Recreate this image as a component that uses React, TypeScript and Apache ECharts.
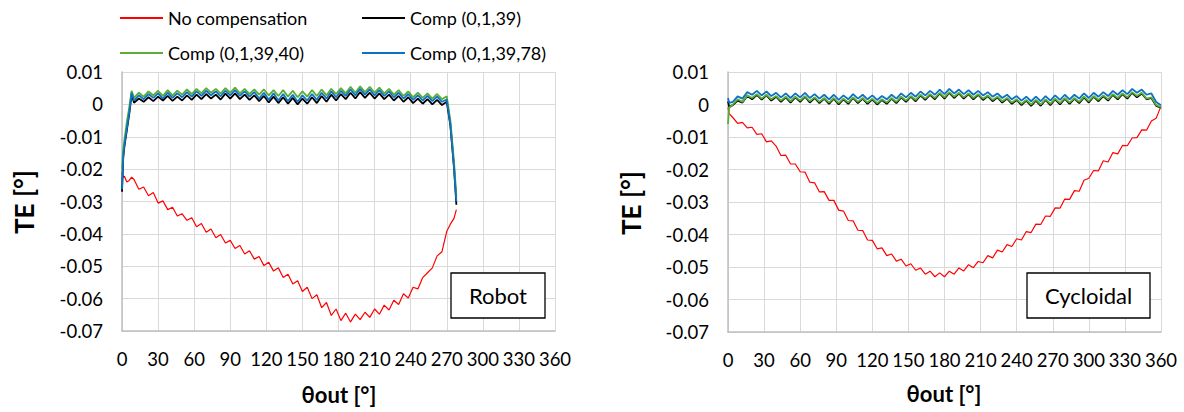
import { useEffect, useRef } from "react";
import * as echarts from "echarts";

const FONT = "Lato, 'DejaVu Sans', sans-serif";

const SERIES_NAMES = ["No compensation", "Comp (0,1,39)", "Comp (0,1,39,40)", "Comp (0,1,39,78)"];
const SERIES_COLORS = ["#ff0000", "#000000", "#5aae35", "#0b72c4"];

const X_TICKS = [0, 30, 60, 90, 120, 150, 180, 210, 240, 270, 300, 330, 360];
const Y_TICKS = [-0.07, -0.06, -0.05, -0.04, -0.03, -0.02, -0.01, 0, 0.01];

// ---------- Robot (left panel) ----------
const robotTheta = [
  0, 1, 2, 4, 6, 8,
  10, 14, 18, 22, 26, 30, 34, 38, 42, 46,
  50, 54, 58, 62, 66, 70, 74, 78, 82, 86,
  90, 94, 98, 102, 106, 110, 114, 118, 122, 126,
  130, 134, 138, 142, 146, 150, 154, 158, 162, 166,
  170, 174, 178, 182, 186, 190, 194, 198, 202, 206,
  210, 214, 218, 222, 226, 230, 234, 238, 242, 246,
  250, 254, 258, 262, 266, 270, 273, 276, 278,
];
const robotNoComp = [
  -0.0210, -0.0225, -0.0222, -0.0240, -0.0235, -0.0225,
  -0.0232, -0.0262, -0.0255, -0.0282, -0.0272, -0.0305, -0.0298, -0.0325, -0.0318, -0.0345,
  -0.0338, -0.0358, -0.0350, -0.0378, -0.0368, -0.0395, -0.0385, -0.0412, -0.0402, -0.0428,
  -0.0420, -0.0445, -0.0436, -0.0462, -0.0452, -0.0478, -0.0470, -0.0498, -0.0488, -0.0515,
  -0.0505, -0.0535, -0.0525, -0.0555, -0.0545, -0.0578, -0.0565, -0.0600, -0.0588, -0.0628,
  -0.0612, -0.0652, -0.0632, -0.0668, -0.0645, -0.0672, -0.0648, -0.0665, -0.0642, -0.0658,
  -0.0632, -0.0648, -0.0620, -0.0635, -0.0605, -0.0618, -0.0585, -0.0598, -0.0565, -0.0570,
  -0.0535, -0.0520, -0.0505, -0.0468, -0.0455, -0.0392, -0.0370, -0.0352, -0.0325,
];
const robotComp39 = [
  -0.0270, -0.0165, -0.0130, -0.0080, -0.0030, 0.0030,
  0.0005, 0.0018, 0.0008, 0.0022, 0.0010, 0.0024, 0.0012, 0.0026, 0.0011, 0.0024,
  0.0012, 0.0028, 0.0014, 0.0030, 0.0016, 0.0032, 0.0018, 0.0030, 0.0015, 0.0033,
  0.0018, 0.0034, 0.0016, 0.0030, 0.0014, 0.0028, 0.0010, 0.0026, 0.0006, 0.0024,
  0.0004, 0.0022, 0.0002, 0.0020, 0.0000, 0.0018, 0.0002, 0.0022, 0.0004, 0.0026,
  0.0008, 0.0030, 0.0012, 0.0032, 0.0016, 0.0036, 0.0018, 0.0038, 0.0020, 0.0036,
  0.0018, 0.0034, 0.0016, 0.0030, 0.0012, 0.0026, 0.0008, 0.0022, 0.0004, 0.0018,
  0.0002, 0.0016, 0.0000, 0.0014, -0.0002, 0.0008, -0.0065, -0.0195, -0.0310,
];
const robotComp40 = [
  -0.0200, -0.0140, -0.0110, -0.0055, -0.0010, 0.0042,
  0.0020, 0.0036, 0.0024, 0.0040, 0.0028, 0.0042, 0.0026, 0.0044, 0.0028, 0.0042,
  0.0030, 0.0046, 0.0032, 0.0048, 0.0034, 0.0050, 0.0036, 0.0048, 0.0033, 0.0050,
  0.0036, 0.0052, 0.0034, 0.0048, 0.0032, 0.0046, 0.0030, 0.0046, 0.0028, 0.0044,
  0.0026, 0.0044, 0.0024, 0.0042, 0.0022, 0.0040, 0.0024, 0.0044, 0.0026, 0.0046,
  0.0028, 0.0048, 0.0032, 0.0050, 0.0034, 0.0054, 0.0036, 0.0056, 0.0038, 0.0054,
  0.0036, 0.0052, 0.0034, 0.0048, 0.0030, 0.0044, 0.0026, 0.0040, 0.0022, 0.0036,
  0.0020, 0.0034, 0.0018, 0.0032, 0.0016, 0.0025, -0.0050, -0.0175, -0.0285,
];
const robotComp78 = [
  -0.0262, -0.0160, -0.0125, -0.0075, -0.0025, 0.0036,
  0.0012, 0.0028, 0.0016, 0.0032, 0.0020, 0.0034, 0.0018, 0.0036, 0.0020, 0.0034,
  0.0022, 0.0038, 0.0024, 0.0040, 0.0026, 0.0042, 0.0028, 0.0040, 0.0025, 0.0042,
  0.0028, 0.0044, 0.0026, 0.0040, 0.0024, 0.0038, 0.0018, 0.0036, 0.0014, 0.0034,
  0.0012, 0.0032, 0.0010, 0.0030, 0.0008, 0.0028, 0.0012, 0.0032, 0.0014, 0.0036,
  0.0018, 0.0040, 0.0022, 0.0042, 0.0026, 0.0046, 0.0028, 0.0048, 0.0030, 0.0046,
  0.0028, 0.0044, 0.0026, 0.0040, 0.0022, 0.0036, 0.0018, 0.0032, 0.0014, 0.0028,
  0.0012, 0.0026, 0.0010, 0.0024, 0.0008, 0.0015, -0.0060, -0.0190, -0.0300,
];

// ---------- Cycloidal (right panel) ----------
const cycloTheta = [
  0, 1, 4, 8, 12, 16, 20, 24, 28, 32, 36,
  40, 44, 48, 52, 56, 60, 64, 68, 72, 76,
  80, 84, 88, 92, 96, 100, 104, 108, 112, 116,
  120, 124, 128, 132, 136, 140, 144, 148, 152, 156,
  160, 164, 168, 172, 176, 180, 184, 188, 192, 196,
  200, 204, 208, 212, 216, 220, 224, 228, 232, 236,
  240, 244, 248, 252, 256, 260, 264, 268, 272, 276,
  280, 284, 288, 292, 296, 300, 304, 308, 312, 316,
  320, 324, 328, 332, 336, 340, 344, 348, 352, 356,
  360,
];
const cycloNoComp = [
  -0.0010, -0.0028, -0.0040, -0.0058, -0.0055, -0.0072, -0.0070, -0.0092, -0.0090, -0.0115, -0.0112,
  -0.0128, -0.0157, -0.0156, -0.0183, -0.0183, -0.0207, -0.0208, -0.0239, -0.0241, -0.0269,
  -0.0268, -0.0295, -0.0295, -0.0325, -0.0328, -0.0357, -0.0358, -0.0387, -0.0388, -0.0417,
  -0.0418, -0.0444, -0.0441, -0.0465, -0.0460, -0.0482, -0.0476, -0.0497, -0.0490, -0.0510,
  -0.0503, -0.0522, -0.0513, -0.0530, -0.0518, -0.0530, -0.0513, -0.0522, -0.0503, -0.0512,
  -0.0493, -0.0502, -0.0483, -0.0487, -0.0465, -0.0472, -0.0448, -0.0454, -0.0431, -0.0437,
  -0.0413, -0.0417, -0.0391, -0.0394, -0.0368, -0.0369, -0.0343, -0.0344, -0.0318, -0.0319,
  -0.0291, -0.0292, -0.0265, -0.0267, -0.0233, -0.0227, -0.0203, -0.0204, -0.0173, -0.0177,
  -0.0148, -0.0152, -0.0126, -0.0127, -0.0103, -0.0102, -0.0078, -0.0079, -0.0051, -0.0042,
  -0.0005,
];
const cycloComp39 = [
  0.0010, -0.0008, -0.0002, 0.0012, 0.0006, 0.0026, 0.0016, 0.0030, 0.0015, 0.0028, 0.0012,
  0.0024, 0.0008, 0.0022, 0.0006, 0.0022, 0.0008, 0.0024, 0.0006, 0.0020, 0.0004,
  0.0018, 0.0002, 0.0018, 0.0000, 0.0016, 0.0002, 0.0020, 0.0004, 0.0018, 0.0002,
  0.0016, 0.0000, 0.0014, 0.0002, 0.0018, 0.0004, 0.0022, 0.0008, 0.0024, 0.0010,
  0.0028, 0.0014, 0.0030, 0.0016, 0.0034, 0.0018, 0.0036, 0.0020, 0.0034, 0.0018,
  0.0032, 0.0016, 0.0030, 0.0014, 0.0026, 0.0010, 0.0022, 0.0006, 0.0018, 0.0002,
  0.0014, -0.0002, 0.0012, -0.0004, 0.0012, -0.0004, 0.0014, -0.0002, 0.0016, 0.0000,
  0.0018, 0.0002, 0.0018, 0.0004, 0.0022, 0.0006, 0.0024, 0.0010, 0.0026, 0.0012,
  0.0030, 0.0016, 0.0032, 0.0018, 0.0036, 0.0022, 0.0034, 0.0016, 0.0020, -0.0004,
  -0.0010,
];
const cycloComp40 = [
  -0.0060, -0.0010, 0.0000, 0.0016, 0.0008, 0.0028, 0.0020, 0.0032, 0.0018, 0.0030, 0.0016,
  0.0026, 0.0012, 0.0024, 0.0010, 0.0024, 0.0012, 0.0026, 0.0010, 0.0022, 0.0008,
  0.0020, 0.0006, 0.0020, 0.0004, 0.0018, 0.0006, 0.0022, 0.0008, 0.0020, 0.0006,
  0.0018, 0.0004, 0.0016, 0.0006, 0.0020, 0.0008, 0.0024, 0.0012, 0.0026, 0.0014,
  0.0030, 0.0018, 0.0032, 0.0020, 0.0036, 0.0022, 0.0038, 0.0024, 0.0036, 0.0022,
  0.0034, 0.0020, 0.0032, 0.0018, 0.0028, 0.0014, 0.0024, 0.0010, 0.0020, 0.0006,
  0.0016, 0.0002, 0.0014, 0.0000, 0.0014, 0.0000, 0.0016, 0.0002, 0.0018, 0.0004,
  0.0020, 0.0006, 0.0020, 0.0008, 0.0024, 0.0010, 0.0026, 0.0014, 0.0028, 0.0016,
  0.0032, 0.0020, 0.0034, 0.0022, 0.0038, 0.0026, 0.0036, 0.0018, 0.0022, -0.0002,
  -0.0008,
];
const cycloComp78 = [
  0.0020, 0.0005, 0.0008, 0.0025, 0.0018, 0.0038, 0.0030, 0.0042, 0.0028, 0.0040, 0.0026,
  0.0036, 0.0022, 0.0034, 0.0020, 0.0034, 0.0022, 0.0036, 0.0020, 0.0032, 0.0018,
  0.0030, 0.0016, 0.0030, 0.0014, 0.0028, 0.0016, 0.0032, 0.0018, 0.0030, 0.0016,
  0.0028, 0.0014, 0.0026, 0.0016, 0.0030, 0.0018, 0.0034, 0.0022, 0.0036, 0.0024,
  0.0040, 0.0028, 0.0042, 0.0030, 0.0046, 0.0032, 0.0048, 0.0034, 0.0046, 0.0032,
  0.0044, 0.0030, 0.0042, 0.0028, 0.0038, 0.0024, 0.0034, 0.0020, 0.0030, 0.0016,
  0.0026, 0.0012, 0.0024, 0.0010, 0.0024, 0.0010, 0.0026, 0.0012, 0.0028, 0.0014,
  0.0030, 0.0016, 0.0030, 0.0018, 0.0034, 0.0020, 0.0036, 0.0024, 0.0038, 0.0026,
  0.0042, 0.0030, 0.0044, 0.0032, 0.0048, 0.0036, 0.0046, 0.0030, 0.0034, 0.0008,
  -0.0002,
];

const PANEL_LABELS = ["Robot", "Cycloidal"];

function zip(xs: number[], ys: number[]) {
  return xs.map((x, i) => [x, ys[i]]);
}

function makeOption() {
  const grids = [
    { left: 122, top: 72, width: 433, height: 259 },
    { left: 728, top: 72, width: 433, height: 260 },
  ];
  const axisLabelStyle = { fontFamily: FONT, fontSize: 18.5, color: "#000" };
  const xAxes = grids.map((_, i) => ({
    type: "value",
    gridIndex: i,
    min: X_TICKS[0],
    max: X_TICKS[X_TICKS.length - 1],
    interval: 30,
    axisLine: { show: true, onZero: false, lineStyle: { color: "#bfbfbf", width: 1.5 } },
    axisTick: { show: false },
    splitLine: { show: true, lineStyle: { color: "#d9d9d9", width: 1 } },
    axisLabel: { ...axisLabelStyle, margin: 18 },
  }));
  const yAxes = grids.map((_, i) => ({
    type: "value",
    gridIndex: i,
    min: Y_TICKS[0],
    max: Y_TICKS[Y_TICKS.length - 1],
    interval: 0.01,
    axisLine: { show: true, onZero: false, lineStyle: { color: "#bfbfbf", width: 1.5 } },
    axisTick: { show: false },
    splitLine: { show: true, lineStyle: { color: "#d9d9d9", width: 1 } },
    axisLabel: {
      ...axisLabelStyle,
      margin: 19,
      formatter: (v: number) => {
        const r = Math.round(v * 100) / 100;
        return r === 0 ? "0" : String(r);
      },
    },
  }));

  const panels = [
    { xs: robotTheta, sets: [robotNoComp, robotComp39, robotComp40, robotComp78] },
    { xs: cycloTheta, sets: [cycloNoComp, cycloComp39, cycloComp40, cycloComp78] },
  ];
  const series: any[] = [];
  panels.forEach((p, pi) => {
    p.sets.forEach((vals, si) => {
      series.push({
        type: "line",
        name: SERIES_NAMES[si],
        xAxisIndex: pi,
        yAxisIndex: pi,
        data: zip(p.xs, vals),
        showSymbol: false,
        symbol: "none",
        color: SERIES_COLORS[si],
        lineStyle: { color: SERIES_COLORS[si], width: si === 0 ? 1.2 : 1.8 },
        z: 2 + si,
      });
    });
  });

  const legendPos = [
    { left: 120, top: 9 },
    { left: 362, top: 9 },
    { left: 120, top: 44 },
    { left: 362, top: 44 },
  ];
  const legend = SERIES_NAMES.map((n, i) => ({
    ...legendPos[i],
    data: [n],
    icon: "rect",
    itemWidth: 43,
    itemHeight: 2,
    padding: 0,
    textStyle: { fontFamily: FONT, fontSize: 18, color: "#000" },
  }));

  const boxes = [
    { x: 451, y: 273, w: 94, h: 45 },
    { x: 1027, y: 273, w: 123, h: 45 },
  ];
  const yTitles = [
    { x: 24, y: 202 },
    { x: 631, y: 203 },
  ];
  const xTitles = [
    { x: 339, y: 394 },
    { x: 944, y: 393 },
  ];
  const graphic: any[] = [];
  yTitles.forEach((t) => {
    graphic.push({
      type: "text",
      x: t.x,
      y: t.y,
      rotation: Math.PI / 2,
      style: {
        text: "TE [°]",
        fontFamily: FONT,
        fontSize: 26,
        fontWeight: "bold",
        fill: "#000",
        align: "center",
        verticalAlign: "middle",
      },
    });
  });
  xTitles.forEach((t) => {
    graphic.push({
      type: "text",
      x: t.x,
      y: t.y,
      style: {
        text: "θout [°]",
        fontFamily: FONT,
        fontSize: 22,
        fontWeight: "bold",
        fill: "#000",
        align: "center",
        verticalAlign: "middle",
      },
    });
  });
  boxes.forEach((b, i) => {
    graphic.push({
      type: "rect",
      z: 100,
      shape: { x: b.x, y: b.y, width: b.w, height: b.h },
      style: { fill: "#fff", stroke: "#000", lineWidth: 1.3 },
    });
    graphic.push({
      type: "text",
      z: 101,
      x: b.x + b.w / 2,
      y: b.y + b.h / 2,
      style: {
        text: PANEL_LABELS[i],
        fontFamily: FONT,
        fontSize: 22,
        fill: "#000",
        align: "center",
        verticalAlign: "middle",
      },
    });
  });

  return {
    animation: false,
    backgroundColor: "#fff",
    grid: grids,
    xAxis: xAxes,
    yAxis: yAxes,
    legend,
    series,
    graphic,
  };
}

export default function App() {
  const ref = useRef<HTMLDivElement>(null);
  useEffect(() => {
    if (!ref.current) return;
    const chart = echarts.init(ref.current, null, { renderer: "svg" });
    chart.setOption(makeOption() as any);
    return () => chart.dispose();
  }, []);
  return (
    <div
      ref={ref}
      style={{ position: "fixed", left: 0, top: 0, width: 1184, height: 412, background: "#fff" }}
    />
  );
}
